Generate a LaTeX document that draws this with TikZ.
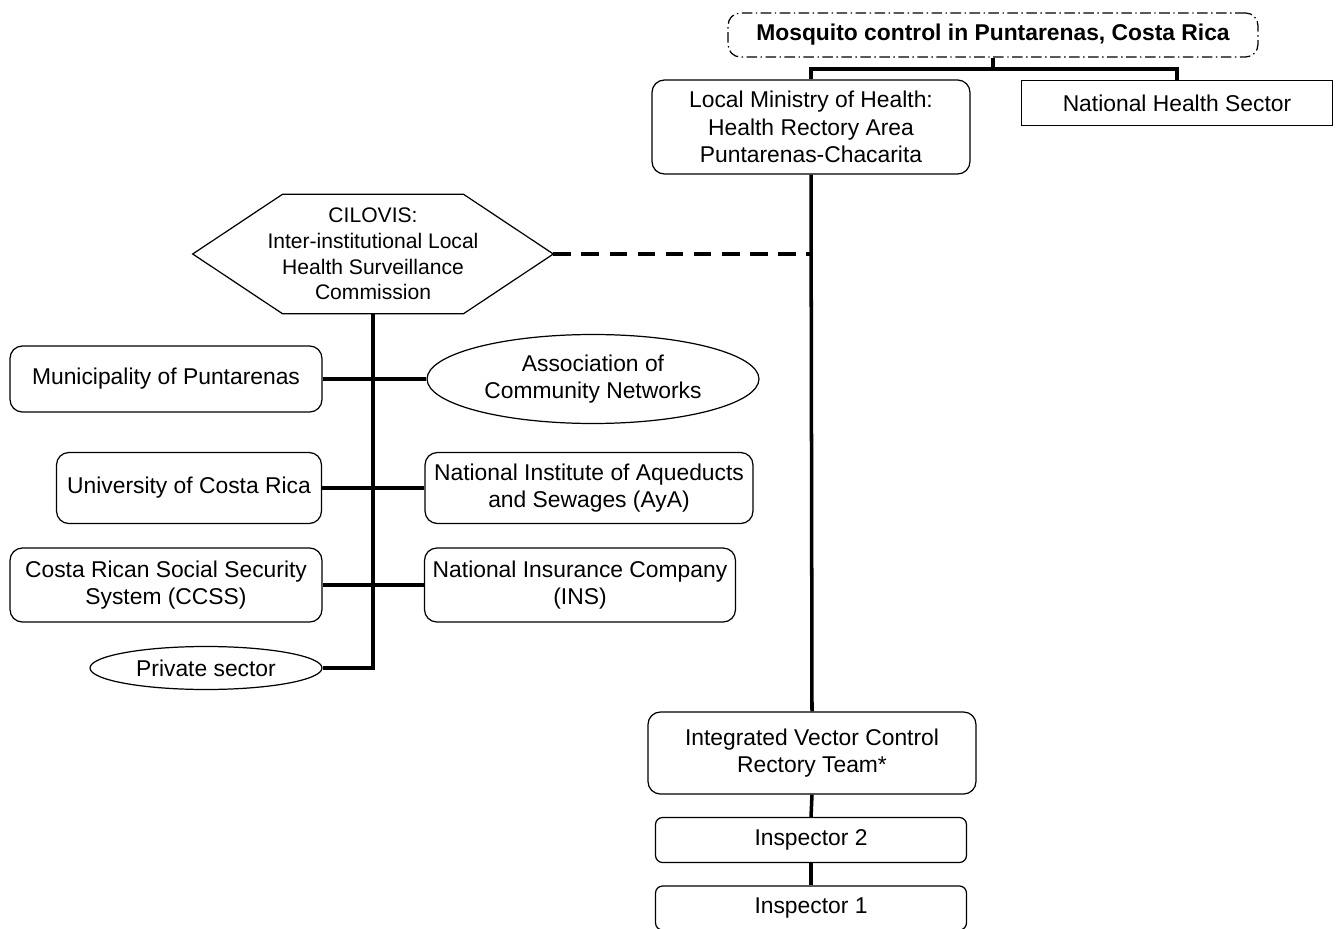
\documentclass[tikz,border=0pt]{standalone}
\usepackage{fontspec}
\setmainfont{Liberation Sans}
\usetikzlibrary{shapes.geometric, positioning}

\tikzset{
  box/.style={draw, line width=0.7pt, rounded corners=7pt, align=center, inner sep=0pt,
    font=\fontsize{13}{15.5}\selectfont},
  flatbox/.style={box, rounded corners=0pt},
  oval/.style={box, ellipse},
  link/.style={line width=2pt},
}

\begin{document}
\begin{tikzpicture}[x=0.02cm, y=-0.02cm]
\useasboundingbox (0,0) rectangle (1342,929);

% top of the tree
\node[box, dash pattern=on 6pt off 2pt on 0.8pt off 2pt, minimum width=10.6cm, minimum height=0.88cm,
  font=\fontsize{13}{15.5}\selectfont\bfseries] (mosq) at (993,35) {Mosquito control in Puntarenas, Costa Rica};
\node[box, minimum width=6.36cm, minimum height=1.88cm] (ministry) at (811,127) {Local Ministry of Health:\\Health Rectory Area\\Puntarenas-Chacarita};
\node[flatbox, minimum width=6.22cm, minimum height=0.9cm] (nhs) at (1177,103) {National Health Sector};
\coordinate (split) at (993,69);

% commission and its members
\node[align=center, inner sep=0pt, minimum width=7.2cm, minimum height=2.38cm,
  font=\fontsize{12}{14.6}\selectfont] (cilovis) at (373,254)
  {CILOVIS:\\Inter-institutional Local\\Health Surveillance\\Commission};
\draw[line width=0.7pt] (cilovis.west) -- ([xshift=1.8cm]cilovis.north west) -- ([xshift=-1.8cm]cilovis.north east)
  -- (cilovis.east) -- ([xshift=-1.8cm]cilovis.south east) -- ([xshift=1.8cm]cilovis.south west) -- cycle;
\node[box, minimum width=6.24cm, minimum height=1.32cm] (muni) at (166,379) {Municipality of Puntarenas};
\node[oval, minimum width=6.64cm, minimum height=1.78cm] (assoc) at (593,379) {Association of\\Community Networks};
\node[box, minimum width=5.3cm, minimum height=1.42cm] (ucr) at (189,488) {University of Costa Rica};
\node[box, minimum width=6.56cm, minimum height=1.42cm] (aya) at (589,488) {National Institute of Aqueducts\\and Sewages (AyA)};
\node[box, minimum width=6.24cm, minimum height=1.48cm] (ccss) at (166,585) {Costa Rican Social Security\\System (CCSS)};
\node[box, minimum width=6.22cm, minimum height=1.48cm] (ins) at (580,585) {National Insurance Company\\(INS)};
\node[oval, minimum width=4.64cm, minimum height=0.86cm] (private) at (206,668) {Private sector};

% field team
\node[box, minimum width=6.56cm, minimum height=1.64cm] (ivc) at (812,753) {Integrated Vector Control\\Rectory Team*};
\node[box, rounded corners=4pt, minimum width=6.22cm, minimum height=0.9cm] (insp2) at (811,840) {Inspector 2};
\node[box, rounded corners=4pt, minimum width=6.22cm, minimum height=0.88cm] (insp1) at (811,908) {Inspector 1};

\draw[link] (mosq.south) -- (split) (ministry.north) |- (split) -| (nhs.north);
\draw[link] (ministry.south) -- (ivc.north);
\draw[link, dash pattern=on 10pt off 6pt] (cilovis.east) -- (cilovis.east -| ministry.south);
\draw[link] (cilovis.south) -- (cilovis.south |- private.east) -- (private.east);
\draw[link] (muni.east) -- (assoc.west);
\draw[link] (ucr.east) -- (aya.west);
\draw[link] (ccss.east) -- (ins.west);
\draw[link] (ivc.south) -- (insp2.north);
\draw[link] (insp2.south) -- (insp1.north);
\end{tikzpicture}
\end{document}
